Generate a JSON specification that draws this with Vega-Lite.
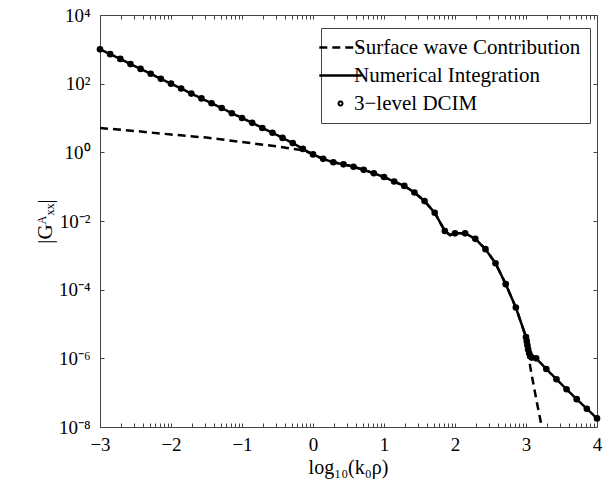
{
  "$schema": "https://vega.github.io/schema/vega-lite/v6.json",
  "width": 497,
  "height": 412,
  "autosize": "none",
  "padding": {"left": 100, "top": 15, "right": 19, "bottom": 68},
  "config": {
    "view": {"stroke": null},
    "font": "Liberation Serif",
    "style": {"guide-label": {"font": "Liberation Serif"}, "guide-title": {"font": "Liberation Serif"}},
    "axis": {"grid": false, "domainColor": "#444", "tickColor": "#444", "domainWidth": 1, "tickWidth": 1, "labelColor": "black", "titleColor": "black", "labelFont": "Liberation Serif", "titleFont": "Liberation Serif", "titleFontWeight": "normal"},
    "legend": {"labelFont": "Liberation Serif", "labelLimit": 0, "strokeColor": "#444", "fillColor": "white"}
  },
  "datasets": {
    "surface": [
      {"x": -3, "y": 5.13}, {"x": -2.5, "y": 4.17}, {"x": -2, "y": 3.31}, {"x": -1.5, "y": 2.69},
      {"x": -1, "y": 2.0}, {"x": -0.5, "y": 1.48}, {"x": -0.143, "y": 1.15}, {"x": 0, "y": 0.871},
      {"x": 0.143, "y": 0.646}, {"x": 0.286, "y": 0.513}, {"x": 0.429, "y": 0.447}, {"x": 0.571, "y": 0.38},
      {"x": 0.714, "y": 0.309}, {"x": 0.857, "y": 0.245}, {"x": 1.0, "y": 0.191}, {"x": 1.143, "y": 0.141},
      {"x": 1.286, "y": 0.105}, {"x": 1.429, "y": 0.0676}, {"x": 1.571, "y": 0.038}, {"x": 1.714, "y": 0.0174},
      {"x": 1.857, "y": 0.00513}, {"x": 1.93, "y": 0.00389}, {"x": 2.0, "y": 0.00437}, {"x": 2.143, "y": 0.00437},
      {"x": 2.286, "y": 0.00302}, {"x": 2.429, "y": 0.00151}, {"x": 2.571, "y": 0.000589}, {"x": 2.714, "y": 0.000145},
      {"x": 2.857, "y": 3.02e-5}, {"x": 3.0, "y": 4.17e-6}, {"x": 3.03, "y": 1.58e-6}, {"x": 3.06, "y": 5.62e-7},
      {"x": 3.1, "y": 2.0e-7}, {"x": 3.15, "y": 5.62e-8}, {"x": 3.2, "y": 1.7e-8}, {"x": 3.25, "y": 5.0e-9}
    ],
    "numerical": [
      {"x": -3, "y": 1000}, {"x": -2.857, "y": 724}, {"x": -2.714, "y": 525}, {"x": -2.571, "y": 372},
      {"x": -2.429, "y": 269}, {"x": -2.286, "y": 195}, {"x": -2.143, "y": 138}, {"x": -2.0, "y": 100},
      {"x": -1.857, "y": 72.4}, {"x": -1.714, "y": 51.3}, {"x": -1.571, "y": 37.2}, {"x": -1.429, "y": 26.9},
      {"x": -1.286, "y": 19.5}, {"x": -1.143, "y": 13.8}, {"x": -1.0, "y": 10}, {"x": -0.857, "y": 7.24},
      {"x": -0.714, "y": 5.13}, {"x": -0.571, "y": 3.72}, {"x": -0.429, "y": 2.63}, {"x": -0.286, "y": 1.86},
      {"x": -0.143, "y": 1.26}, {"x": 0, "y": 0.871}, {"x": 0.143, "y": 0.646}, {"x": 0.286, "y": 0.513},
      {"x": 0.429, "y": 0.447}, {"x": 0.571, "y": 0.38}, {"x": 0.714, "y": 0.309}, {"x": 0.857, "y": 0.245},
      {"x": 1.0, "y": 0.191}, {"x": 1.143, "y": 0.141}, {"x": 1.286, "y": 0.105}, {"x": 1.429, "y": 0.0676},
      {"x": 1.571, "y": 0.038}, {"x": 1.714, "y": 0.0174}, {"x": 1.857, "y": 0.00513}, {"x": 1.93, "y": 0.00389},
      {"x": 2.0, "y": 0.00437}, {"x": 2.143, "y": 0.00437}, {"x": 2.286, "y": 0.00302}, {"x": 2.429, "y": 0.00151},
      {"x": 2.571, "y": 0.000589}, {"x": 2.714, "y": 0.000145}, {"x": 2.857, "y": 3.02e-5}, {"x": 3.0, "y": 4.17e-6},
      {"x": 3.01, "y": 3.16e-6}, {"x": 3.02, "y": 2.4e-6}, {"x": 3.03, "y": 1.82e-6}, {"x": 3.045, "y": 1.41e-6},
      {"x": 3.06, "y": 1.15e-6}, {"x": 3.08, "y": 1.05e-6}, {"x": 3.143, "y": 1.0e-6}, {"x": 3.286, "y": 4.9e-7},
      {"x": 3.429, "y": 2.45e-7}, {"x": 3.571, "y": 1.26e-7}, {"x": 3.714, "y": 6.46e-8}, {"x": 3.857, "y": 3.39e-8},
      {"x": 4.0, "y": 1.78e-8}
    ],
    "dcim": [
      {"x": -3, "y": 1000}, {"x": -2.857, "y": 724}, {"x": -2.714, "y": 525}, {"x": -2.571, "y": 372},
      {"x": -2.429, "y": 269}, {"x": -2.286, "y": 195}, {"x": -2.143, "y": 138}, {"x": -2.0, "y": 100},
      {"x": -1.857, "y": 72.4}, {"x": -1.714, "y": 51.3}, {"x": -1.571, "y": 37.2}, {"x": -1.429, "y": 26.9},
      {"x": -1.286, "y": 19.5}, {"x": -1.143, "y": 13.8}, {"x": -1.0, "y": 10}, {"x": -0.857, "y": 7.24},
      {"x": -0.714, "y": 5.13}, {"x": -0.571, "y": 3.72}, {"x": -0.429, "y": 2.63}, {"x": -0.286, "y": 1.86},
      {"x": -0.143, "y": 1.26}, {"x": 0, "y": 0.871}, {"x": 0.143, "y": 0.646}, {"x": 0.286, "y": 0.513},
      {"x": 0.429, "y": 0.447}, {"x": 0.571, "y": 0.38}, {"x": 0.714, "y": 0.309}, {"x": 0.857, "y": 0.245},
      {"x": 1.0, "y": 0.191}, {"x": 1.143, "y": 0.141}, {"x": 1.286, "y": 0.105}, {"x": 1.429, "y": 0.0676},
      {"x": 1.571, "y": 0.038}, {"x": 1.714, "y": 0.0174}, {"x": 1.857, "y": 0.00513},
      {"x": 2.0, "y": 0.00437}, {"x": 2.143, "y": 0.00437}, {"x": 2.286, "y": 0.00302}, {"x": 2.429, "y": 0.00151},
      {"x": 2.571, "y": 0.000589}, {"x": 2.714, "y": 0.000145}, {"x": 2.857, "y": 3.02e-5}, {"x": 3.0, "y": 4.17e-6},
      {"x": 3.01, "y": 3.16e-6}, {"x": 3.02, "y": 2.4e-6}, {"x": 3.03, "y": 1.82e-6}, {"x": 3.045, "y": 1.41e-6},
      {"x": 3.06, "y": 1.15e-6}, {"x": 3.08, "y": 1.05e-6}, {"x": 3.143, "y": 1.0e-6}, {"x": 3.286, "y": 4.9e-7},
      {"x": 3.429, "y": 2.45e-7}, {"x": 3.571, "y": 1.26e-7}, {"x": 3.714, "y": 6.46e-8}, {"x": 3.857, "y": 3.39e-8},
      {"x": 4.0, "y": 1.78e-8}
    ]
  },
  "layer": [
    {
      "data": {"name": "surface"},
      "mark": {"type": "line", "color": "black", "strokeWidth": 2.5, "clip": true},
      "encoding": {
        "x": {
          "field": "x", "type": "quantitative",
          "scale": {"domain": [-3, 4], "nice": false, "zero": false},
          "axis": {
            "orient": "bottom",
            "values": [-3, -2.69897, -2.52288, -2.39794, -2.30103, -2.22185, -2.1549, -2.09691, -2.04576, -2, -1.69897, -1.52288, -1.39794, -1.30103, -1.22185, -1.1549, -1.09691, -1.04576, -1, -0.69897, -0.52288, -0.39794, -0.30103, -0.22185, -0.1549, -0.09691, -0.04576, 0, 0.30103, 0.47712, 0.60206, 0.69897, 0.77815, 0.8451, 0.90309, 0.95424, 1, 1.30103, 1.47712, 1.60206, 1.69897, 1.77815, 1.8451, 1.90309, 1.95424, 2, 2.30103, 2.47712, 2.60206, 2.69897, 2.77815, 2.8451, 2.90309, 2.95424, 3, 3.30103, 3.47712, 3.60206, 3.69897, 3.77815, 3.8451, 3.90309, 3.95424, 4],
            "labelExpr": "datum.value % 1 === 0 ? format(datum.value, 'd') : ''",
            "labelOverlap": false, "labelFlush": false, "labelBound": false,
            "tickSize": -4,
            "labelPadding": 12,
            "labelFont": "Times New Roman, Liberation Serif, serif",
            "labelFontSize": 19,
            "title": "log₁₀(k₀ρ)",
            "titleFont": "Liberation Serif",
            "titleFontSize": 20,
            "titleX": 248, "titleY": 40, "titleBaseline": "middle", "titleAlign": "center"
          }
        },
        "y": {
          "field": "y", "type": "quantitative",
          "scale": {"type": "log", "domain": [1e-8, 10000], "nice": false},
          "axis": {
            "orient": "left",
            "values": [1e-8, 1e-6, 1e-4, 0.01, 1, 100, 10000],
            "labelExpr": "'10' + (datum.value > 1000 ? '⁴' : datum.value > 10 ? '²' : datum.value > 0.1 ? '⁰' : datum.value > 0.001 ? '⁻²' : datum.value > 0.00001 ? '⁻⁴' : datum.value > 0.0000001 ? '⁻⁶' : '⁻⁸')",
            "tickSize": -4,
            "labelPadding": 14,
            "labelFont": "Times New Roman, Liberation Serif, serif",
            "labelFontSize": 19,
            "labelOverlap": false, "labelFlush": false, "labelBound": false,
            "title": "|Gᴬₓₓ|",
            "titleFont": "Liberation Serif",
            "titleFontSize": 21,
            "titleX": -55, "titleY": 206, "titleAngle": -90, "titleBaseline": "middle", "titleAlign": "center"
          }
        },
        "strokeDash": {
          "datum": "Surface wave Contribution",
          "scale": {"domain": ["Surface wave Contribution", "Numerical Integration", "3−level DCIM"], "range": [[8, 5], [1, 0], [1, 0]]},
          "legend": {
            "title": null,
            "orient": "none", "legendX": 221, "legendY": 13,
            "strokeColor": "#444", "fillColor": "white", "padding": 9,
            "labelFont": "Liberation Serif", "labelFontSize": 21, "labelColor": "black", "labelOffset": 3, "labelLimit": 0,
            "symbolType": "stroke", "symbolSize": 1800, "symbolStrokeWidth": 2.5, "symbolStrokeColor": "black",
            "rowPadding": 6,
            "encode": {
              "legend": {"update": {"stroke": {"value": "#444"}, "strokeWidth": {"value": 1}, "fill": {"value": "white"}}},
              "symbols": {
                "update": {
                  "shape": {"signal": "datum.value === '3−level DCIM' ? 'circle' : 'stroke'"},
                  "size": {"signal": "datum.value === '3−level DCIM' ? 16 : 1800"},
                  "strokeWidth": {"signal": "datum.value === '3−level DCIM' ? 2 : 2.5"},
                  "fill": {"value": "transparent"}
                }
              }
            }
          }
        }
      }
    },
    {
      "data": {"name": "numerical"},
      "mark": {"type": "line", "color": "black", "strokeWidth": 2.5},
      "encoding": {
        "x": {
          "field": "x", "type": "quantitative",
          "axis": {
            "orient": "top",
            "values": [-3, -2.69897, -2.52288, -2.39794, -2.30103, -2.22185, -2.1549, -2.09691, -2.04576, -2, -1.69897, -1.52288, -1.39794, -1.30103, -1.22185, -1.1549, -1.09691, -1.04576, -1, -0.69897, -0.52288, -0.39794, -0.30103, -0.22185, -0.1549, -0.09691, -0.04576, 0, 0.30103, 0.47712, 0.60206, 0.69897, 0.77815, 0.8451, 0.90309, 0.95424, 1, 1.30103, 1.47712, 1.60206, 1.69897, 1.77815, 1.8451, 1.90309, 1.95424, 2, 2.30103, 2.47712, 2.60206, 2.69897, 2.77815, 2.8451, 2.90309, 2.95424, 3, 3.30103, 3.47712, 3.60206, 3.69897, 3.77815, 3.8451, 3.90309, 3.95424, 4],
            "labels": false, "tickSize": -4, "title": null
          }
        },
        "y": {
          "field": "y", "type": "quantitative",
          "axis": {
            "orient": "right",
            "values": [1e-8, 1e-6, 1e-4, 0.01, 1, 100, 10000],
            "labels": false, "tickSize": -4, "title": null
          }
        },
        "strokeDash": {"datum": "Numerical Integration"}
      }
    },
    {
      "data": {"name": "dcim"},
      "mark": {"type": "point", "filled": true, "color": "black", "size": 44, "opacity": 1},
      "encoding": {
        "x": {"field": "x", "type": "quantitative", "axis": null},
        "y": {"field": "y", "type": "quantitative", "axis": null}
      }
    }
  ],
  "resolve": {"axis": {"x": "independent", "y": "independent"}}
}
